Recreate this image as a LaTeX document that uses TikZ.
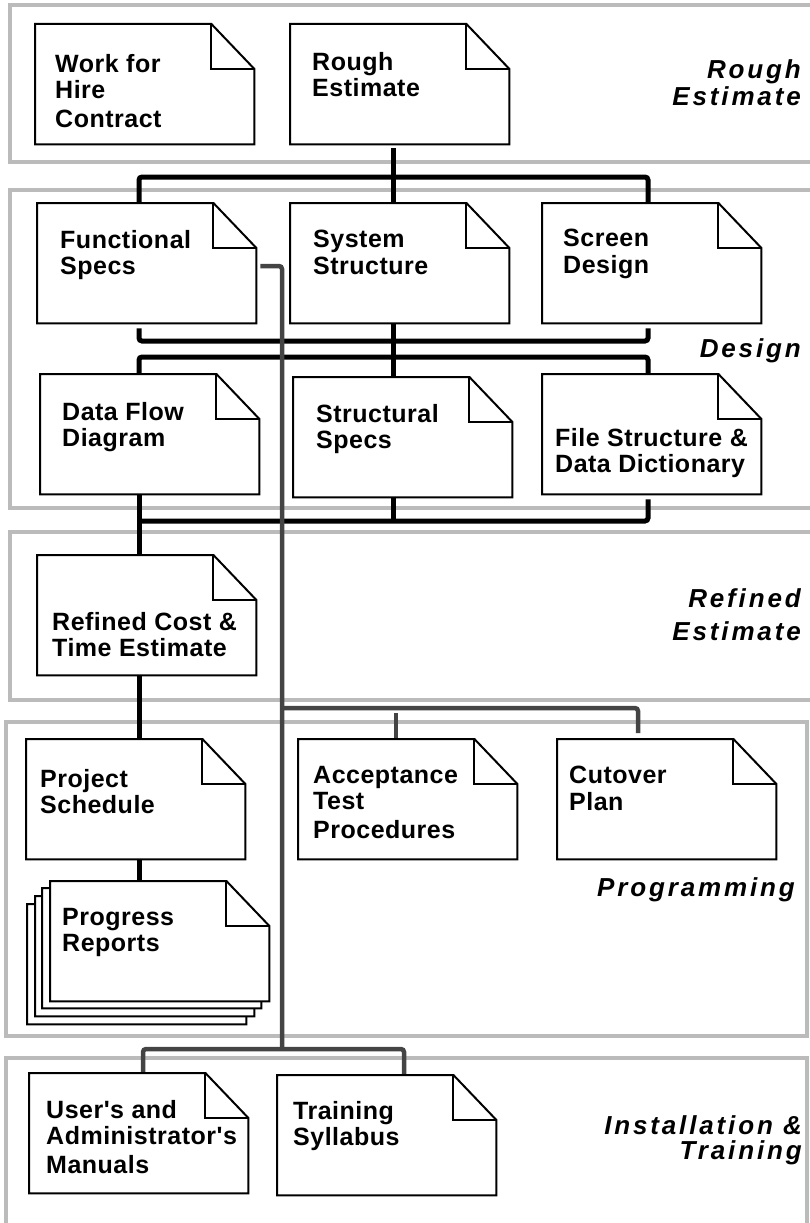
\documentclass[tikz,border=0pt]{standalone}
\usepackage{fontspec}
\setmainfont{Liberation Sans}
\newfontfamily\docfont{Liberation Sans}[LetterSpace=2]
\newfontfamily\lblfont{Liberation Sans}[LetterSpace=11]
\usetikzlibrary{calc}
\definecolor{bandgray}{HTML}{BBBBBB}
\definecolor{darkline}{HTML}{444444}
\tikzset{
  band/.style={draw=bandgray, line width=4pt},
  docbox/.style={rectangle, minimum width=219pt, minimum height=120pt, inner sep=0pt, anchor=north west},
  docline/.style={draw=black, line width=2pt, line join=miter},
  doctext/.style={anchor=north west, inner sep=0pt, align=left, font=\docfont\bfseries\fontsize{25pt}{26.5pt}\selectfont},
  lbl/.style={anchor=north east, inner sep=0pt, align=right, font=\lblfont\bfseries\itshape\fontsize{26pt}{27pt}\selectfont},
  blk/.style={draw=black, line width=5pt, rounded corners=3pt},
  gry/.style={draw=darkline, line width=4.5pt, rounded corners=3pt},
}
\newcommand\drawdoc[1]{%
  \draw[docline, fill=white] (#1.north west) -- ($(#1.north east)+(-43,0)$) -- ($(#1.north east)+(0,45)$) -- (#1.south east) -- (#1.south west) -- cycle;
  \draw[docline] ($(#1.north east)+(-43,0)$) -- ++(0,45) -- ($(#1.north east)+(0,45)$);
}
\begin{document}
\begin{tikzpicture}[x=1pt, y=-1pt]
\useasboundingbox (0,0) rectangle (809,1223);
% bands
\draw[band] (10,5) rectangle (815,162);
\draw[band] (10,190) rectangle (815,508);
\draw[band] (10,532) rectangle (815,700);
\draw[band] (6,722) rectangle (807,1036);
\draw[band] (6,1058) rectangle (807,1235);
% section labels
\node[lbl] (lrough) at (801,59) {Rough\\Estimate};
\node[lbl] (ldesign) at (801,338) {Design};
\node[lbl, font=\lblfont\bfseries\itshape\fontsize{26pt}{33pt}\selectfont] (lrefined) at (801,588) {Refined\\Estimate};
\node[lbl] (lprog) at (795,877) {Programming};
\node[lbl, font=\lblfont\bfseries\itshape\fontsize{26pt}{25.5pt}\selectfont] (linst) at (802,1115) {Installation \&\\Training};
% document nodes
\node[docbox] (wfh) at (35,24) {};
\node[docbox] (re) at (290,24) {};
\node[docbox] (fs) at (37,203) {};
\node[docbox] (ss) at (290,203) {};
\node[docbox] (sd) at (542,203) {};
\node[docbox] (dfd) at (40,374) {};
\node[docbox] (sts) at (293,377) {};
\node[docbox] (fsdd) at (542,374) {};
\node[docbox] (rc) at (37,555) {};
\node[docbox] (ps) at (26,739) {};
\node[docbox] (atp) at (298,739) {};
\node[docbox] (cp) at (557,739) {};
\node[docbox] (pr3) at (27,904) {};
\node[docbox] (pr2) at (35,896) {};
\node[docbox] (pr1) at (42,888) {};
\node[docbox] (pr) at (50,881) {};
\node[docbox] (um) at (29,1073) {};
\node[docbox] (ts) at (277,1075) {};
% connector coordinates
\coordinate (cA) at (139,0);
\coordinate (cB) at (393,0);
\coordinate (cC) at (648,0);
\coordinate (cG) at (282,0);
\coordinate (cU) at (143,0);
\coordinate (cT) at (404,0);
\coordinate (cJ) at (396,0);
\coordinate (cK) at (638,0);
\coordinate (b1) at (0,177);
\coordinate (b2) at (0,341);
\coordinate (b3) at (0,357);
\coordinate (b4) at (0,521);
\coordinate (b5) at (0,1049);
\coordinate (b6) at (0,708);
% black connectors
\draw[blk] ($(re.south -| cB)+(0,4)$) -- (ss.north -| cB);
\draw[blk] (fs.north -| cA) |- (b1 -| cC) -- (sd.north -| cC);
\draw[blk] ($(fs.south -| cA)+(0,5)$) |- (b2 -| cC) -- ($(sd.south -| cC)+(0,5)$);
\draw[blk] (ss.south -| cB) -- (sts.north -| cB);
\draw[blk] (dfd.north -| cA) |- (b3 -| cC) -- (fsdd.north -| cC);
\draw[blk] ($(fsdd.south -| cC)+(0,5)$) |- (b4 -| cA);
\draw[blk] (sts.south -| cB) -- (b4 -| cB);
\draw[blk] (dfd.south -| cA) -- (rc.north -| cA);
\draw[blk] (rc.south -| cA) -- (ps.north -| cA);
\draw[blk] (ps.south -| cA) -- (pr.north -| cA);
% gray connectors
\draw[gry] ($(fs.north east)+(4,63)$) -| (b5 -| cG);
\draw[gry] (um.north -| cU) |- (b5 -| cT) -- (ts.north -| cT);
\draw[gry] (b6 -| cG) -| ($(cp.north -| cK)+(0,-6)$);
\draw[gry] ($(b6 -| cJ)+(0,5)$) -- (atp.north -| cJ);
% document outlines
\foreach \d in {wfh,re,fs,ss,sd,dfd,sts,fsdd,rc,ps,atp,cp,pr3,pr2,pr1,pr,um,ts}{\drawdoc{\d}}
% document texts
\node[doctext] (twfh) at ($(wfh.north west)+(20,30)$) {Work for\\Hire\\[2pt]Contract};
\node[doctext] (tre) at ($(re.north west)+(22,28)$) {Rough\\Estimate};
\node[doctext] (tfs) at ($(fs.north west)+(23,27)$) {Functional\\Specs};
\node[doctext] (tss) at ($(ss.north west)+(23,27)$) {System\\Structure};
\node[doctext] (tsd) at ($(sd.north west)+(21,26)$) {Screen\\Design};
\node[doctext] (tdfd) at ($(dfd.north west)+(22,28)$) {Data Flow\\Diagram};
\node[doctext] (tsts) at ($(sts.north west)+(23,27)$) {Structural\\Specs};
\node[doctext] (tfsdd) at ($(fsdd.north west)+(13,54)$) {File Structure \&\\Data Dictionary};
\node[doctext] (trc) at ($(rc.north west)+(15,57)$) {Refined Cost \&\\Time Estimate};
\node[doctext] (tps) at ($(ps.north west)+(14,30)$) {Project\\Schedule};
\node[doctext] (tatp) at ($(atp.north west)+(15,27)$) {Acceptance\\Test\\[2pt]Procedures};
\node[doctext] (tcp) at ($(cp.north west)+(12,27)$) {Cutover\\Plan};
\node[doctext] (tpr) at ($(pr.north west)+(12,27)$) {Progress\\Reports};
\node[doctext] (tum) at ($(um.north west)+(17,27)$) {User's and\\Administrator's\\[2pt]Manuals};
\node[doctext] (tts) at ($(ts.north west)+(16,26)$) {Training\\Syllabus};
\end{tikzpicture}
\end{document}
